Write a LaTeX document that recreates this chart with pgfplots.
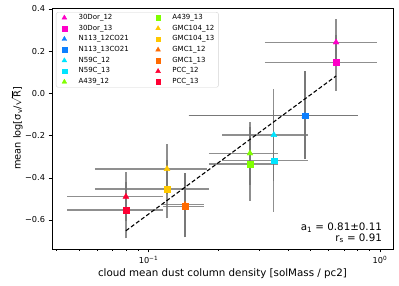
\documentclass[border=0pt]{standalone}
\usepackage{fontspec}
\setmainfont{DejaVu Sans}
\usepackage{pgfplots}
\pgfplotsset{compat=1.18}
\definecolor{cDor}{HTML}{FF00C8}
\definecolor{cNbl}{HTML}{0D80FF}
\definecolor{cNcy}{HTML}{00E5FF}
\definecolor{cAgr}{HTML}{80FF00}
\definecolor{cGye}{HTML}{FFC800}
\definecolor{cGor}{HTML}{FF6A00}
\definecolor{cPre}{HTML}{FF0033}
\pgfplotsset{eb/.style={forget plot, black!55, opacity=0.8, line width=1.2pt, unbounded coords=jump}}
\begin{document}
\begin{tikzpicture}
\begin{axis}[name=ax, scale only axis, width=341pt, height=241pt,
  xmode=log, xmin=0.0383, xmax=1.138, ymin=-0.7374, ymax=0.4047,
  ytick={-0.6,-0.4,-0.2,0,0.2,0.4},
  yticklabels={−0.6,−0.4,−0.2,0.0,0.2,0.4},
  xtick={0.1,1}, xticklabels={10\textsuperscript{−1},10\textsuperscript{0}},
  minor xtick={0.04,0.05,0.06,0.07,0.08,0.09,0.2,0.3,0.4,0.5,0.6,0.7,0.8,0.9},
  tick align=outside, tick pos=left,
  major tick length=3.5pt, minor tick length=2pt,
  every tick/.style={black, line width=0.6pt},
  axis line style={line width=0.7pt},
  tick label style={font=\fontsize{8.2}{9}\selectfont},
  xlabel={cloud mean dust column density [solMass / pc2]},
  ylabel={mean log[σ\textsubscript{v}/$\sqrt{\hbox{R}}$]},
  xlabel style={font=\fontsize{10.3}{12}\selectfont, at={(axis description cs:0.5,-0.104)}, anchor=center},
  ylabel style={font=\fontsize{9.8}{12}\selectfont, at={(axis description cs:-0.103,0.5)}, anchor=center},
  legend columns=2,
  legend cell align=left,
  legend style={at={(axis description cs:0.0117,0.983)}, anchor=north west,
    font=\fontsize{7}{8}\selectfont, draw=gray!35, rounded corners=2pt,
    row sep=1.1pt, inner xsep=2pt, inner ysep=0.6pt,
    nodes={text height=5.3pt, text depth=1.7pt, inner ysep=1.3pt},
    /tikz/every even column/.append style={column sep=21pt}},
  legend image code/.code={\path (0pt,0pt) (18pt,0pt); \draw[#1, mark options={scale=0.8}] plot coordinates {(6pt,0pt)};},
]
% error bars
\addplot[eb] coordinates {(0.318,0.242) (0.970,0.242) (nan,nan) (0.646,0.131) (0.646,0.353)};
\addplot[eb] coordinates {(0.318,0.146) (0.970,0.146) (nan,nan) (0.646,0.013) (0.646,0.279)};
\addplot[eb] coordinates {(0.149,-0.106) (0.801,-0.106) (nan,nan) (0.474,-0.312) (0.474,0.106)};
\addplot[eb] coordinates {(0.149,-0.106) (0.801,-0.106) (nan,nan) (0.474,-0.312) (0.474,0.106)};
\addplot[eb] coordinates {(0.2085,-0.197) (0.488,-0.197) (nan,nan) (0.348,-0.415) (0.348,0.021)};
\addplot[eb] coordinates {(0.2085,-0.319) (0.488,-0.319) (nan,nan) (0.348,-0.561) (0.348,-0.077)};
\addplot[eb] coordinates {(0.1824,-0.284) (0.362,-0.284) (nan,nan) (0.2744,-0.434) (0.2744,-0.134)};
\addplot[eb] coordinates {(0.1824,-0.335) (0.362,-0.335) (nan,nan) (0.2744,-0.5085) (0.2744,-0.161)};
\addplot[eb] coordinates {(0.0587,-0.358) (0.1783,-0.358) (nan,nan) (0.1202,-0.476) (0.1202,-0.240)};
\addplot[eb] coordinates {(0.0587,-0.453) (0.1824,-0.453) (nan,nan) (0.1202,-0.592) (0.1202,-0.314)};
\addplot[eb] coordinates {(0.1152,-0.5275) (0.1731,-0.5275) (nan,nan) (0.1438,-0.68) (0.1438,-0.375)};
\addplot[eb] coordinates {(0.1152,-0.536) (0.1731,-0.536) (nan,nan) (0.1438,-0.682) (0.1438,-0.376)};
\addplot[eb] coordinates {(0.0446,-0.4896) (0.1152,-0.4896) (nan,nan) (0.0799,-0.605) (0.0799,-0.374)};
\addplot[eb] coordinates {(0.0446,-0.5526) (0.1152,-0.5526) (nan,nan) (0.0799,-0.687) (0.0799,-0.418)};
% fit
\addplot[forget plot, black, line width=1.1pt, dash pattern=on 4pt off 2.3pt] coordinates {(0.0799,-0.651) (0.646,0.0825)};
% markers (row-major order for a column-major legend)
\addplot[only marks, mark=triangle*, mark size=3.4pt, color=cDor] coordinates {(0.646,0.242)}; \addlegendentry{30Dor\_12}
\addplot[only marks, mark=square*, mark size=2.9pt, color=cAgr] coordinates {(0.2744,-0.335)}; \addlegendentry{A439\_13}
\addplot[only marks, mark=square*, mark size=2.9pt, color=cDor] coordinates {(0.646,0.146)}; \addlegendentry{30Dor\_13}
\addplot[only marks, mark=triangle*, mark size=3.4pt, color=cGye] coordinates {(0.1202,-0.358)}; \addlegendentry{GMC104\_12}
\addplot[only marks, mark=triangle*, mark size=3.4pt, color=cNbl] coordinates {(0.474,-0.106)}; \addlegendentry{N113\_12CO21}
\addplot[only marks, mark=square*, mark size=2.9pt, color=cGye] coordinates {(0.1202,-0.453)}; \addlegendentry{GMC104\_13}
\addplot[only marks, mark=square*, mark size=2.9pt, color=cNbl] coordinates {(0.474,-0.106)}; \addlegendentry{N113\_13CO21}
\addplot[only marks, mark=triangle*, mark size=3.4pt, color=cGor] coordinates {(0.1438,-0.5275)}; \addlegendentry{GMC1\_12}
\addplot[only marks, mark=triangle*, mark size=3.4pt, color=cNcy] coordinates {(0.348,-0.197)}; \addlegendentry{N59C\_12}
\addplot[only marks, mark=square*, mark size=2.9pt, color=cGor] coordinates {(0.1438,-0.536)}; \addlegendentry{GMC1\_13}
\addplot[only marks, mark=square*, mark size=2.9pt, color=cNcy] coordinates {(0.348,-0.319)}; \addlegendentry{N59C\_13}
\addplot[only marks, mark=triangle*, mark size=3.4pt, color=cPre] coordinates {(0.0799,-0.4896)}; \addlegendentry{PCC\_12}
\addplot[only marks, mark=triangle*, mark size=3.4pt, color=cAgr] coordinates {(0.2744,-0.284)}; \addlegendentry{A439\_12}
\addplot[only marks, mark=square*, mark size=2.9pt, color=cPre] coordinates {(0.0799,-0.5526)}; \addlegendentry{PCC\_13}
\node[anchor=south east, align=right, font=\fontsize{10.3}{11}\selectfont, inner sep=0pt] at (rel axis cs:0.968,0.024) {a\textsubscript{1} = 0.81±0.11\\r\textsubscript{s} = 0.91};
\end{axis}
\pgfresetboundingbox
\path[use as bounding box] ([shift={(-52pt,-37pt)}]ax.south west) rectangle ([shift={(6pt,8pt)}]ax.north east);
\end{tikzpicture}
\end{document}
